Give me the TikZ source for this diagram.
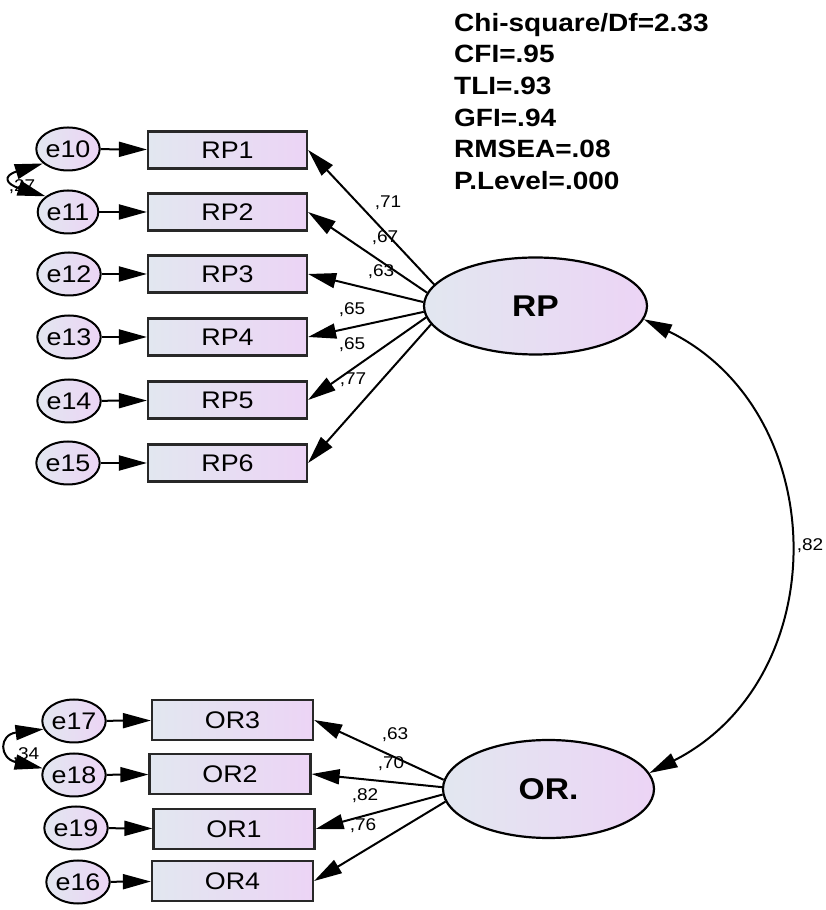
\documentclass[tikz,border=0pt]{standalone}
\usepackage{fontspec}
\setmainfont{Liberation Sans}[FakeStretch=1.12]
\usetikzlibrary{arrows.meta,shapes.geometric}
\definecolor{fillL}{RGB}{226,231,240}
\definecolor{fillR}{RGB}{236,212,245}
\definecolor{edge}{RGB}{40,40,40}
\begin{document}
\begin{tikzpicture}[x=1pt,y=1pt,
  obs/.style={rectangle, draw=edge, line width=2.2pt, minimum width=159pt,
    minimum height=37pt, inner sep=0pt, left color=fillL, right color=fillR,
    font=\fontsize{24}{24}\selectfont},
  err/.style={ellipse, draw=black, line width=2pt, minimum width=47pt,
    minimum height=43pt, inner sep=0pt, left color=fillL, right color=fillR,
    font=\fontsize{24}{24}\selectfont},
  lat/.style={ellipse, draw=black, line width=2.2pt, inner sep=0pt,
    left color=fillL, right color=fillR,
    font=\bfseries\fontsize{30}{30}\selectfont},
  tip/.tip={Triangle[length=28pt,width=15pt]},
  load/.style={line width=2pt, -tip},
  cov/.style={line width=2pt, tip-tip},
  wt/.style={inner sep=0pt, font=\fontsize{17}{17}\selectfont}
]
\useasboundingbox (0,0) rectangle (825,910);

% fit indices
\node[anchor=north west, align=left, inner sep=0pt,
  font=\bfseries\fontsize{25}{31.6}\selectfont] (fit) at (454,897)
  {Chi-square/Df=2.33\\CFI=.95\\TLI=.93\\GFI=.94\\RMSEA=.08\\P.Level=.000};

% latent factors
\node[lat, minimum width=223pt, minimum height=97pt] (RP) at (535.5,604) {RP};
\node[lat, minimum width=211pt, minimum height=98pt] (OR) at (548.5,121) {OR.};

% RP indicators and their errors
\node[obs] (rp1) at (227.5,760) {RP1};
\node[obs] (rp2) at (227.5,698) {RP2};
\node[obs] (rp3) at (227.5,636) {RP3};
\node[obs] (rp4) at (227.5,573) {RP4};
\node[obs] (rp5) at (227.5,510) {RP5};
\node[obs] (rp6) at (227.5,447) {RP6};
\node[err] (e10) at (68,761) {e10};
\node[err] (e11) at (68,698) {e11};
\node[err] (e12) at (69,636) {e12};
\node[err] (e13) at (69,573) {e13};
\node[err] (e14) at (69,509) {e14};
\node[err] (e15) at (68,447) {e15};

% OR indicators and their errors
\node[obs, minimum width=161pt, minimum height=40pt] (or3) at (232.5,190) {OR3};
\node[obs, minimum width=161pt, minimum height=40pt] (or2) at (230,136) {OR2};
\node[obs, minimum width=161pt, minimum height=40pt] (or1) at (234,81) {OR1};
\node[obs, minimum width=161pt, minimum height=40pt] (or4) at (232.5,29) {OR4};
\node[err] (e17) at (74,189) {e17};
\node[err] (e18) at (74,135) {e18};
\node[err] (e19) at (76,82) {e19};
\node[err] (e16) at (78,28) {e16};

% error paths
\foreach \e/\v in {e10/rp1,e11/rp2,e12/rp3,e13/rp4,e14/rp5,e15/rp6,
                   e17/or3,e18/or2,e19/or1,e16/or4}
  \draw[load] (\e) -- (\v);

% factor loadings
\draw[load] (RP.168) -- (rp1.east);
\draw[load] (RP.173) -- (rp2.east);
\draw[load] (RP.178) -- (rp3.east);
\draw[load] (RP.183) -- (rp4.east);
\draw[load] (RP.186) -- (rp5.east);
\draw[load] (RP.190) -- (rp6.east);
\draw[load] (OR.175) -- (or3.east);
\draw[load] (OR.179) -- (or2.east);
\draw[load] (OR.183) -- (or1.east);
\draw[load] (OR.187) -- (or4.east);

\node[wt] (w1) at (388,707) {,71};
\node[wt] (w2) at (385,672) {,67};
\node[wt] (w3) at (381,638) {,63};
\node[wt] (w4) at (352,600) {,65};
\node[wt] (w5) at (352,565) {,65};
\node[wt] (w6) at (353,530) {,77};
\node[wt] (w7) at (395,175) {,63};
\node[wt] (w8) at (391,146) {,70};
\node[wt] (w9) at (365,114) {,82};
\node[wt] (w10) at (363,84) {,76};

% correlations
\node[wt] (c1) at (22,723) {,27};
\node[wt] (c2) at (26,155) {,34};
\draw[cov] (e10.210) .. controls +(197:42) and +(163:42) .. (e11.145);
\draw[cov] (e17.195) .. controls +(187:45) and +(167:45) .. (e18.168);
\draw[cov] (RP.-7) to[out=-26,in=27,looseness=1.18] (OR.9);
\node[wt] (c3) at (810,364) {,82};
\end{tikzpicture}
\end{document}
